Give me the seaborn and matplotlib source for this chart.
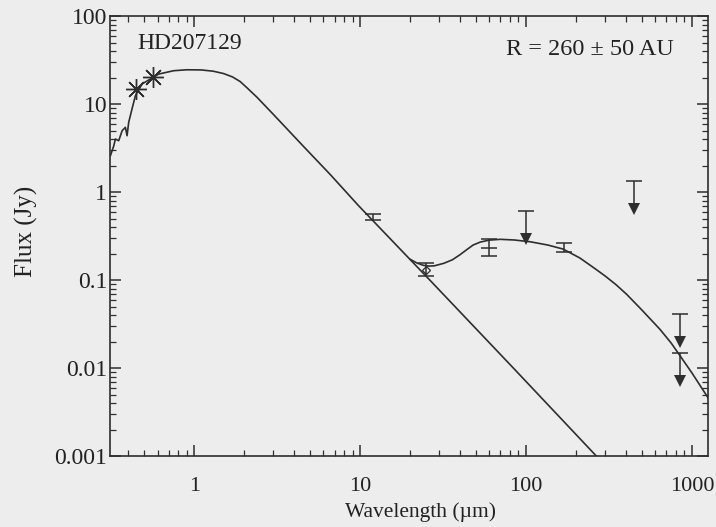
import matplotlib
matplotlib.use("Agg")
import matplotlib.pyplot as plt
import matplotlib.ticker as mticker
import numpy as np
import pandas as pd
import seaborn as sns

# ---------------- data ----------------
# stellar photosphere model (wavelength in micron, flux in Jy)
phot_wl = [0.312, 0.327, 0.334, 0.35, 0.367, 0.384, 0.393, 0.402, 0.421, 0.441,
           0.484, 0.61, 0.75, 0.90, 1.10, 1.30, 1.50, 1.70, 1.89, 2.10, 2.39,
           3.0, 4.55, 6.6, 9.77, 26.4, 83.8, 275.0]
phot_fx = [2.59, 3.36, 4.0, 3.83, 4.98, 5.43, 4.36, 6.2, 8.8, 12.4,
           16.9, 21.9, 23.9, 24.5, 24.4, 23.6, 22.2, 20.3, 18.0, 15.0, 11.9,
           7.6, 3.3, 1.58, 0.70, 0.099, 0.0100, 0.00093]

# photosphere + disk model
tot_wl = [20.0, 22.0, 24.0, 26.0, 28.0, 32.0, 36.0, 40.0, 44.0, 48.0, 53.0,
          60.0, 70.0, 85.0, 106.0, 135.0, 167.0, 211.0, 253.0, 300.0, 350.0,
          405.0, 500.0, 641.0, 750.0, 850.0, 1000.0, 1250.0]
tot_fx = [0.172, 0.156, 0.147, 0.144, 0.145, 0.155, 0.17, 0.194, 0.222, 0.25, 0.27,
          0.284, 0.29, 0.285, 0.272, 0.25, 0.225, 0.178, 0.14, 0.111, 0.088,
          0.0685, 0.0455, 0.0276, 0.0192, 0.0137, 0.0088, 0.0046]

# optical photometry (asterisks)
opt_wl = [0.447, 0.564]
opt_fx = [14.8, 20.1]

# IR / sub-mm detections with error bars
det_wl = [12.0, 25.0, 60.0, 170.0]
det_fx = [0.52, 0.13, 0.23, 0.235]
det_lo = [0.48, 0.111, 0.187, 0.21]
det_hi = [0.57, 0.156, 0.29, 0.262]

# upper limits (bar top and arrow tip)
ul_wl = [100.0, 450.0, 850.0, 850.0]
ul_top = [0.61, 1.33, 0.041, 0.0148]
ul_tip = [0.29, 0.64, 0.0197, 0.0071]

x_ticks = [1, 10, 100, 1000]
y_ticks = [0.001, 0.01, 0.1, 1, 10, 100]

# ---------------- plotting ----------------
sns.set_theme(style="ticks")
plt.rcParams["font.family"] = ["Liberation Serif", "DejaVu Serif"]

bg = "#ededed"
ink = "#2e2e2e"
txt = "#222222"

fig = plt.figure(figsize=(7.16, 5.27), dpi=100, facecolor=bg)
ax = fig.add_axes([0.1536, 0.1347, 0.8352, 0.8349])
ax.set_facecolor(bg)

phot = pd.DataFrame({"wl": phot_wl, "flux": phot_fx})
tot = pd.DataFrame({"wl": tot_wl, "flux": tot_fx})

sns.lineplot(data=phot, x="wl", y="flux", ax=ax, color=ink, lw=1.2,
             sort=False, estimator=None)
sns.lineplot(data=tot, x="wl", y="flux", ax=ax, color=ink, lw=1.2,
             sort=False, estimator=None)

ax.set_xscale("log")
ax.set_yscale("log")

# optical photometry asterisks
ax.plot(opt_wl, opt_fx, linestyle="none", marker=(8, 2, 0), markersize=15,
        markeredgewidth=1.0, color=ink)

# detections
det_fx_a = np.array(det_fx)
yerr = np.vstack([det_fx_a - np.array(det_lo), np.array(det_hi) - det_fx_a])
ax.errorbar(det_wl, det_fx, yerr=yerr, fmt="none", ecolor=ink, elinewidth=1.1,
            capsize=6, capthick=1.1)
ax.plot([det_wl[2]], [det_fx[2]], linestyle="none", marker="_", markersize=12,
        markeredgewidth=1.1, color=ink)
ax.plot([det_wl[1]], [det_fx[1]], linestyle="none", marker="D", markersize=4,
        markerfacecolor="none", markeredgewidth=0.9, color=ink)

# upper limits
ul_top_a = np.array(ul_top)
ul_err = np.vstack([ul_top_a - np.array(ul_tip), np.zeros(len(ul_top))])
ax.errorbar(ul_wl, ul_top, yerr=ul_err, fmt="none", ecolor=ink, elinewidth=1.1,
            capsize=0)
ax.plot(ul_wl, ul_top, linestyle="none", marker="_", markersize=12,
        markeredgewidth=1.1, color=ink)
ax.plot(ul_wl, ul_tip, linestyle="none", marker="v", markersize=8,
        color=ink, markeredgewidth=0)

ax.set_xlim(0.31, 1250)
ax.set_ylim(0.001, 100)

ax.xaxis.set_major_locator(mticker.FixedLocator(x_ticks))
ax.xaxis.set_major_formatter(mticker.FixedFormatter([f"{v:g}" for v in x_ticks]))
ax.xaxis.set_minor_locator(mticker.LogLocator(base=10, subs=np.arange(2, 10), numticks=20))
ax.xaxis.set_minor_formatter(mticker.NullFormatter())
ax.yaxis.set_major_locator(mticker.FixedLocator(y_ticks))
ax.yaxis.set_major_formatter(mticker.FixedFormatter([f"{v:g}" for v in y_ticks]))
ax.yaxis.set_minor_locator(mticker.LogLocator(base=10, subs=np.arange(2, 10), numticks=20))
ax.yaxis.set_minor_formatter(mticker.NullFormatter())

ax.tick_params(which="both", direction="in", top=True, right=True, colors=ink,
               labelcolor=txt)
ax.tick_params(which="major", length=8, width=1.1)
ax.tick_params(which="minor", length=4, width=0.9)
ax.tick_params(axis="x", which="major", labelsize=16, pad=15)
ax.tick_params(axis="y", which="major", labelsize=17, pad=2)
for sp in ax.spines.values():
    sp.set_color(ink)
    sp.set_linewidth(1.2)

ax.set_xlabel("Wavelength (µm)", fontsize=15.5, color=txt)
ax.xaxis.set_label_coords(0.52, -0.105)
ax.set_ylabel("Flux (Jy)", fontsize=18, color=txt)
ax.yaxis.set_label_coords(-0.121, 0.51)

ax.text(0.045, 0.962, "HD207129", transform=ax.transAxes, fontsize=17,
        color=txt, va="top", ha="left")
ax.text(0.943, 0.947, "R = 260 ± 50 AU", transform=ax.transAxes, fontsize=17.5,
        color=txt, va="top", ha="right")

fig.savefig("out.png", dpi=100, facecolor=bg)
